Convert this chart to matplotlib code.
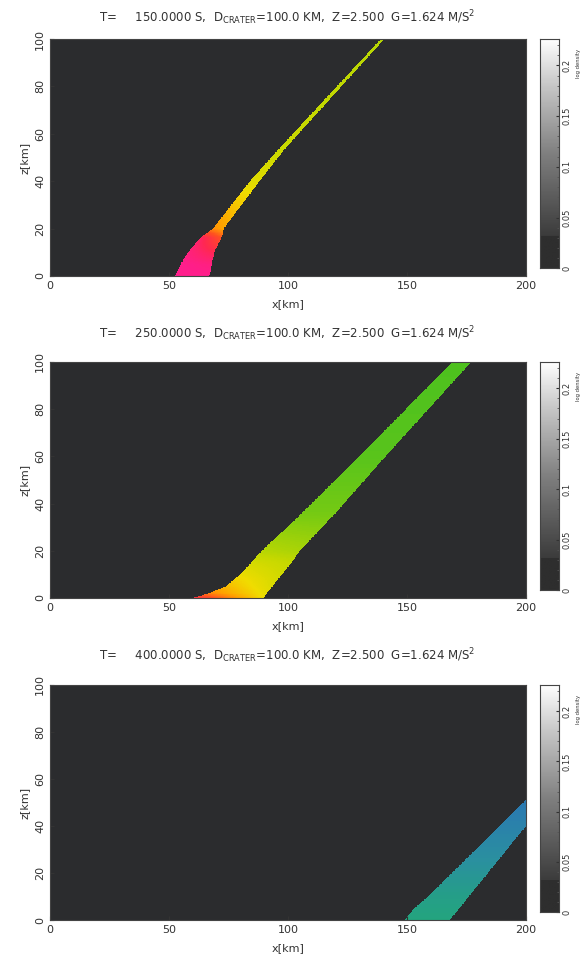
import numpy as np
import matplotlib
matplotlib.use("Agg")
import matplotlib.pyplot as plt
from matplotlib.colors import LinearSegmentedColormap

# ---------------- data ----------------
times = ["150.0000", "250.0000", "400.0000"]

# panel 1 (t=150 s)
p1_z = [0, 5, 10, 16, 20, 40, 54, 100]
p1_xl = [52.5, 55, 58, 63, 68.5, 84, 96.5, 139]
p1_xr = [67, 68, 69, 72, 73, 88, 99, 140.5]
p1_vl = [1.0, 1.0, 0.98, 0.95, 0.74, 0.60, 0.56, 0.53]
p1_vr = [1.0, 0.98, 0.92, 0.82, 0.71, 0.60, 0.56, 0.53]

# panel 2 (t=250 s)
p2_z = [0, 2, 5, 10, 15, 20, 36, 60, 100]
p2_xl = [60, 67, 74, 80, 84.5, 89, 106, 130, 169]
p2_xr = [90, 91, 93.5, 97.5, 101.5, 105, 120, 141, 177]
p2_vl = [0.9, 0.75, 0.68, 0.62, 0.58, 0.53, 0.43, 0.38, 0.36]
p2_vr = [0.62, 0.61, 0.59, 0.57, 0.55, 0.51, 0.43, 0.38, 0.36]

# panel 3 (t=400 s)
p3_z = [0, 5, 10, 20, 40, 51, 60]
p3_xl = [149, 153, 159, 169, 189, 200, 209]
p3_xr = [168, 172, 176, 184, 200, 209, 217]
p3_vl = [0.17, 0.16, 0.15, 0.12, 0.06, 0.03, 0.02]
p3_vr = [0.17, 0.16, 0.15, 0.12, 0.06, 0.03, 0.02]

panels = [
    (p1_z, p1_xl, p1_xr, p1_vl, p1_vr),
    (p2_z, p2_xl, p2_xr, p2_vl, p2_vr),
    (p3_z, p3_xl, p3_xr, p3_vl, p3_vr),
]

x_ticks = [0, 50, 100, 150, 200]
z_ticks = [0, 20, 40, 60, 80, 100]
cb_ticks = [0, 0.05, 0.1, 0.15, 0.2]
cb_labels = ["0", "0.05", "0.1", "0.15", "0.2"]
cb_max = 0.226

# ---------------- style ----------------
plume_cmap = LinearSegmentedColormap.from_list("plume", [
    (0.00, "#2a6fb8"), (0.10, "#2a8fa0"), (0.18, "#22a878"),
    (0.35, "#48c020"), (0.45, "#80cc10"), (0.55, "#c4d800"),
    (0.63, "#f0dc00"), (0.72, "#ffa000"), (0.82, "#ff5020"),
    (0.92, "#ff2850"), (1.00, "#ff1e8c")])
grey_cmap = LinearSegmentedColormap.from_list("g", [
    (0.0, "#2e2e2e"), (0.14, "#2e2e2e"), (0.141, "#3c3c3c"),
    (0.5, "#808080"), (0.8, "#c8c8c8"), (1.0, "#ffffff")])
bg = "#2b2c2e"
txt = "#333333"

fig = plt.figure(figsize=(5.86, 9.66), dpi=100)
ax_rects = [
    (0.0853, 0.7143, 0.8123, 0.2453),
    (0.0853, 0.3810, 0.8123, 0.2443),
    (0.0853, 0.0476, 0.8123, 0.2433),
]
title_y = [0.982, 0.655, 0.321]

xg = np.arange(0, 200.01, 0.25)
zg = np.arange(0, 100.01, 0.25)
XC = 0.5 * (xg[1:] + xg[:-1])
ZC = 0.5 * (zg[1:] + zg[:-1])

for i, ((zl, xl, xr, vl, vr), rect) in enumerate(zip(panels, ax_rects)):
    ax = fig.add_axes(rect)
    ax.set_facecolor(bg)
    L = np.interp(ZC, zl, xl)[:, None]
    R = np.interp(ZC, zl, xr)[:, None]
    VL = np.interp(ZC, zl, vl)[:, None]
    VR = np.interp(ZC, zl, vr)[:, None]
    X = XC[None, :]
    frac = np.clip((X - L) / np.maximum(R - L, 1e-6), 0, 1)
    V = VL + (VR - VL) * frac
    mask = (X < L) | (X > R)
    ax.pcolormesh(xg, zg, np.ma.array(V, mask=mask), cmap=plume_cmap,
                  vmin=0, vmax=1, shading="flat", rasterized=True)
    ax.set_xlim(0, 200)
    ax.set_ylim(0, 100)
    ax.set_xticks(x_ticks)
    ax.set_yticks(z_ticks)
    ax.tick_params(labelsize=8, colors=txt, length=3, direction="in")
    for lab in ax.get_yticklabels():
        lab.set_rotation(90)
        lab.set_va("center")
    ax.set_xlabel("x[km]", fontsize=8, color=txt, labelpad=6)
    ax.set_ylabel("z[km]", fontsize=8, color=txt, labelpad=4)
    for s in ax.spines.values():
        s.set_color("#444444")
    fig.text(0.49, title_y[i],
             r"T=     " + times[i] + r" S,  D$_{\rm CRATER}$=100.0 KM,  Z=2.500  G=1.624 M/S$^2$",
             fontsize=8.5, color=txt, ha="center", va="center")

    # colorbar
    cax = fig.add_axes((0.9215, rect[1] + 0.008, 0.032, rect[3] - 0.008))
    grad = np.linspace(0, cb_max, 200)[:, None]
    cax.imshow(grad, aspect="auto", cmap=grey_cmap, origin="lower",
               extent=(0, 1, 0, cb_max), vmin=0, vmax=cb_max)
    cax.set_xticks([])
    cax.set_ylim(0, cb_max)
    cax.yaxis.tick_right()
    cax.set_yticks(cb_ticks)
    cax.set_yticklabels(cb_labels)
    cax.set_yticks(np.arange(0, cb_max, 0.01), minor=True)
    cax.tick_params(axis="y", labelsize=6, colors=txt, length=2, direction="in", pad=3)
    cax.tick_params(axis="y", which="minor", length=1.5, direction="in", colors="#555555")
    for lab in cax.get_yticklabels():
        lab.set_rotation(90)
        lab.set_va("center")
    for s in cax.spines.values():
        s.set_color("#444444")
    fig.text(0.987, rect[1] + rect[3] - 0.010, "log density", fontsize=3.8,
             rotation=90, color=txt, ha="center", va="top")

fig.savefig("out.png", dpi=100)
